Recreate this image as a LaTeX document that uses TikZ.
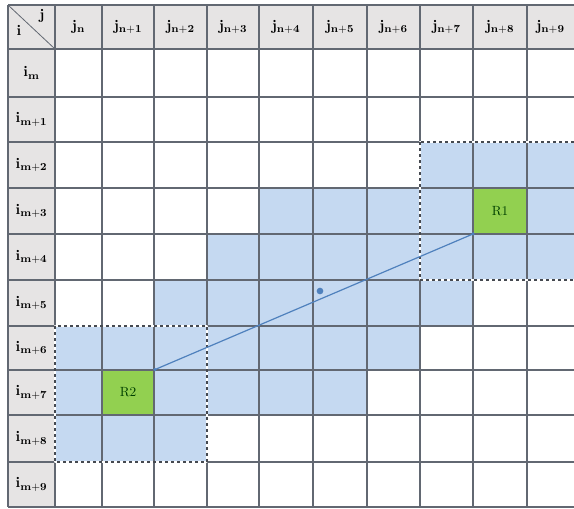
\documentclass[tikz,border=0pt]{standalone}
\definecolor{hdgray}{RGB}{230,228,228}
\definecolor{cellblue}{RGB}{197,217,241}
\definecolor{rgreen}{RGB}{146,208,80}
\definecolor{gridc}{RGB}{98,104,114}
\definecolor{lineblue}{RGB}{79,129,189}
\begin{document}
\begin{tikzpicture}[line join=round,x=0.75pt,y=-0.75pt,
	hd/.style={font=\fontsize{11}{13}\selectfont},
	rbox/.style={fill=rgreen,minimum width=40pt,minimum height=34pt,inner sep=0pt,text=black!75!green,font=\normalsize},
	dashbox/.style={draw=gridc!70!black,line width=1pt,dash pattern=on 2.5pt off 2pt}]
	\useasboundingbox (0,0) rectangle (574,508);
	\def\colx{{55,102,154,207,259,313,367,420,473,527,574}}
	\def\rowy{{49,97,142,188,234,280,326,370,415,462,507}}
	\fill[hdgray] (8,5) rectangle (574,49);\fill[hdgray] (8,49) rectangle (55,507);
	\foreach \r/\a/\b in {2/7/9,3/4/9,4/3/9,5/2/7,6/0/6,7/0/5,8/0/2}{\pgfmathsetmacro\xa{\colx[\a]}\pgfmathsetmacro\xb{\colx[\b+1]}\pgfmathsetmacro\ya{\rowy[\r]}\pgfmathsetmacro\yb{\rowy[\r+1]}\fill[cellblue] (\xa,\ya) rectangle (\xb,\yb);}
	\node[rbox] (R1) at (500,211) {R1};
	\node[rbox] (R2) at (128,392.5) {R2};
	\foreach \x in {8,55,102,154,207,259,313,367,420,473,527}{\draw[gridc,line width=0.8pt] (\x,5)--(\x,507);}
	\foreach \y in {5,49,97,142,188,234,280,326,370,415,462,507}{\draw[gridc,line width=0.8pt] (8,\y)--(574,\y);}
	\draw[gridc,line width=0.6pt] (8,5)--(55,49);
	\node[hd] (ci) at (19,30) {$\mathbf{i}$};
	\node[hd] (cj) at (42,16) {$\mathbf{j}$};
	\foreach \x [count=\k from 0] in {78.5,128,180.5,233,286,340,393.5,446.5,500,550.5}{\ifnum\k=0\node[hd] (j\k) at (\x,27) {$\mathbf{j}_{\mathbf{n}}$};\else\node[hd] (j\k) at (\x,27) {$\mathbf{j}_{\mathbf{n+\k}}$};\fi}
	\foreach \y [count=\k from 0] in {73,119.5,165,211,257,303,348,392.5,438.5,484.5}{\ifnum\k=0\node[hd] (i\k) at (31.5,\y) {$\mathbf{i}_{\mathbf{m}}$};\else\node[hd] (i\k) at (31.5,\y) {$\mathbf{i}_{\mathbf{m+\k}}$};\fi}
	\draw[white,line width=1pt] (420,142) rectangle (590,280);\draw[dashbox] (420,142) rectangle (590,280);
	\draw[white,line width=1pt] (55,326) rectangle (207,462);\draw[dashbox] (55,326) rectangle (207,462);
	\draw[lineblue,line width=0.9pt] (R2.north east)--(R1.south west);
	\fill[lineblue] (R2.north east) circle (1.8);\fill[lineblue] (R1.south west) circle (1.8);
	\node[circle,fill=lineblue,inner sep=0pt,minimum size=5pt] (o) at (320,291) {};
\end{tikzpicture}
\end{document}
